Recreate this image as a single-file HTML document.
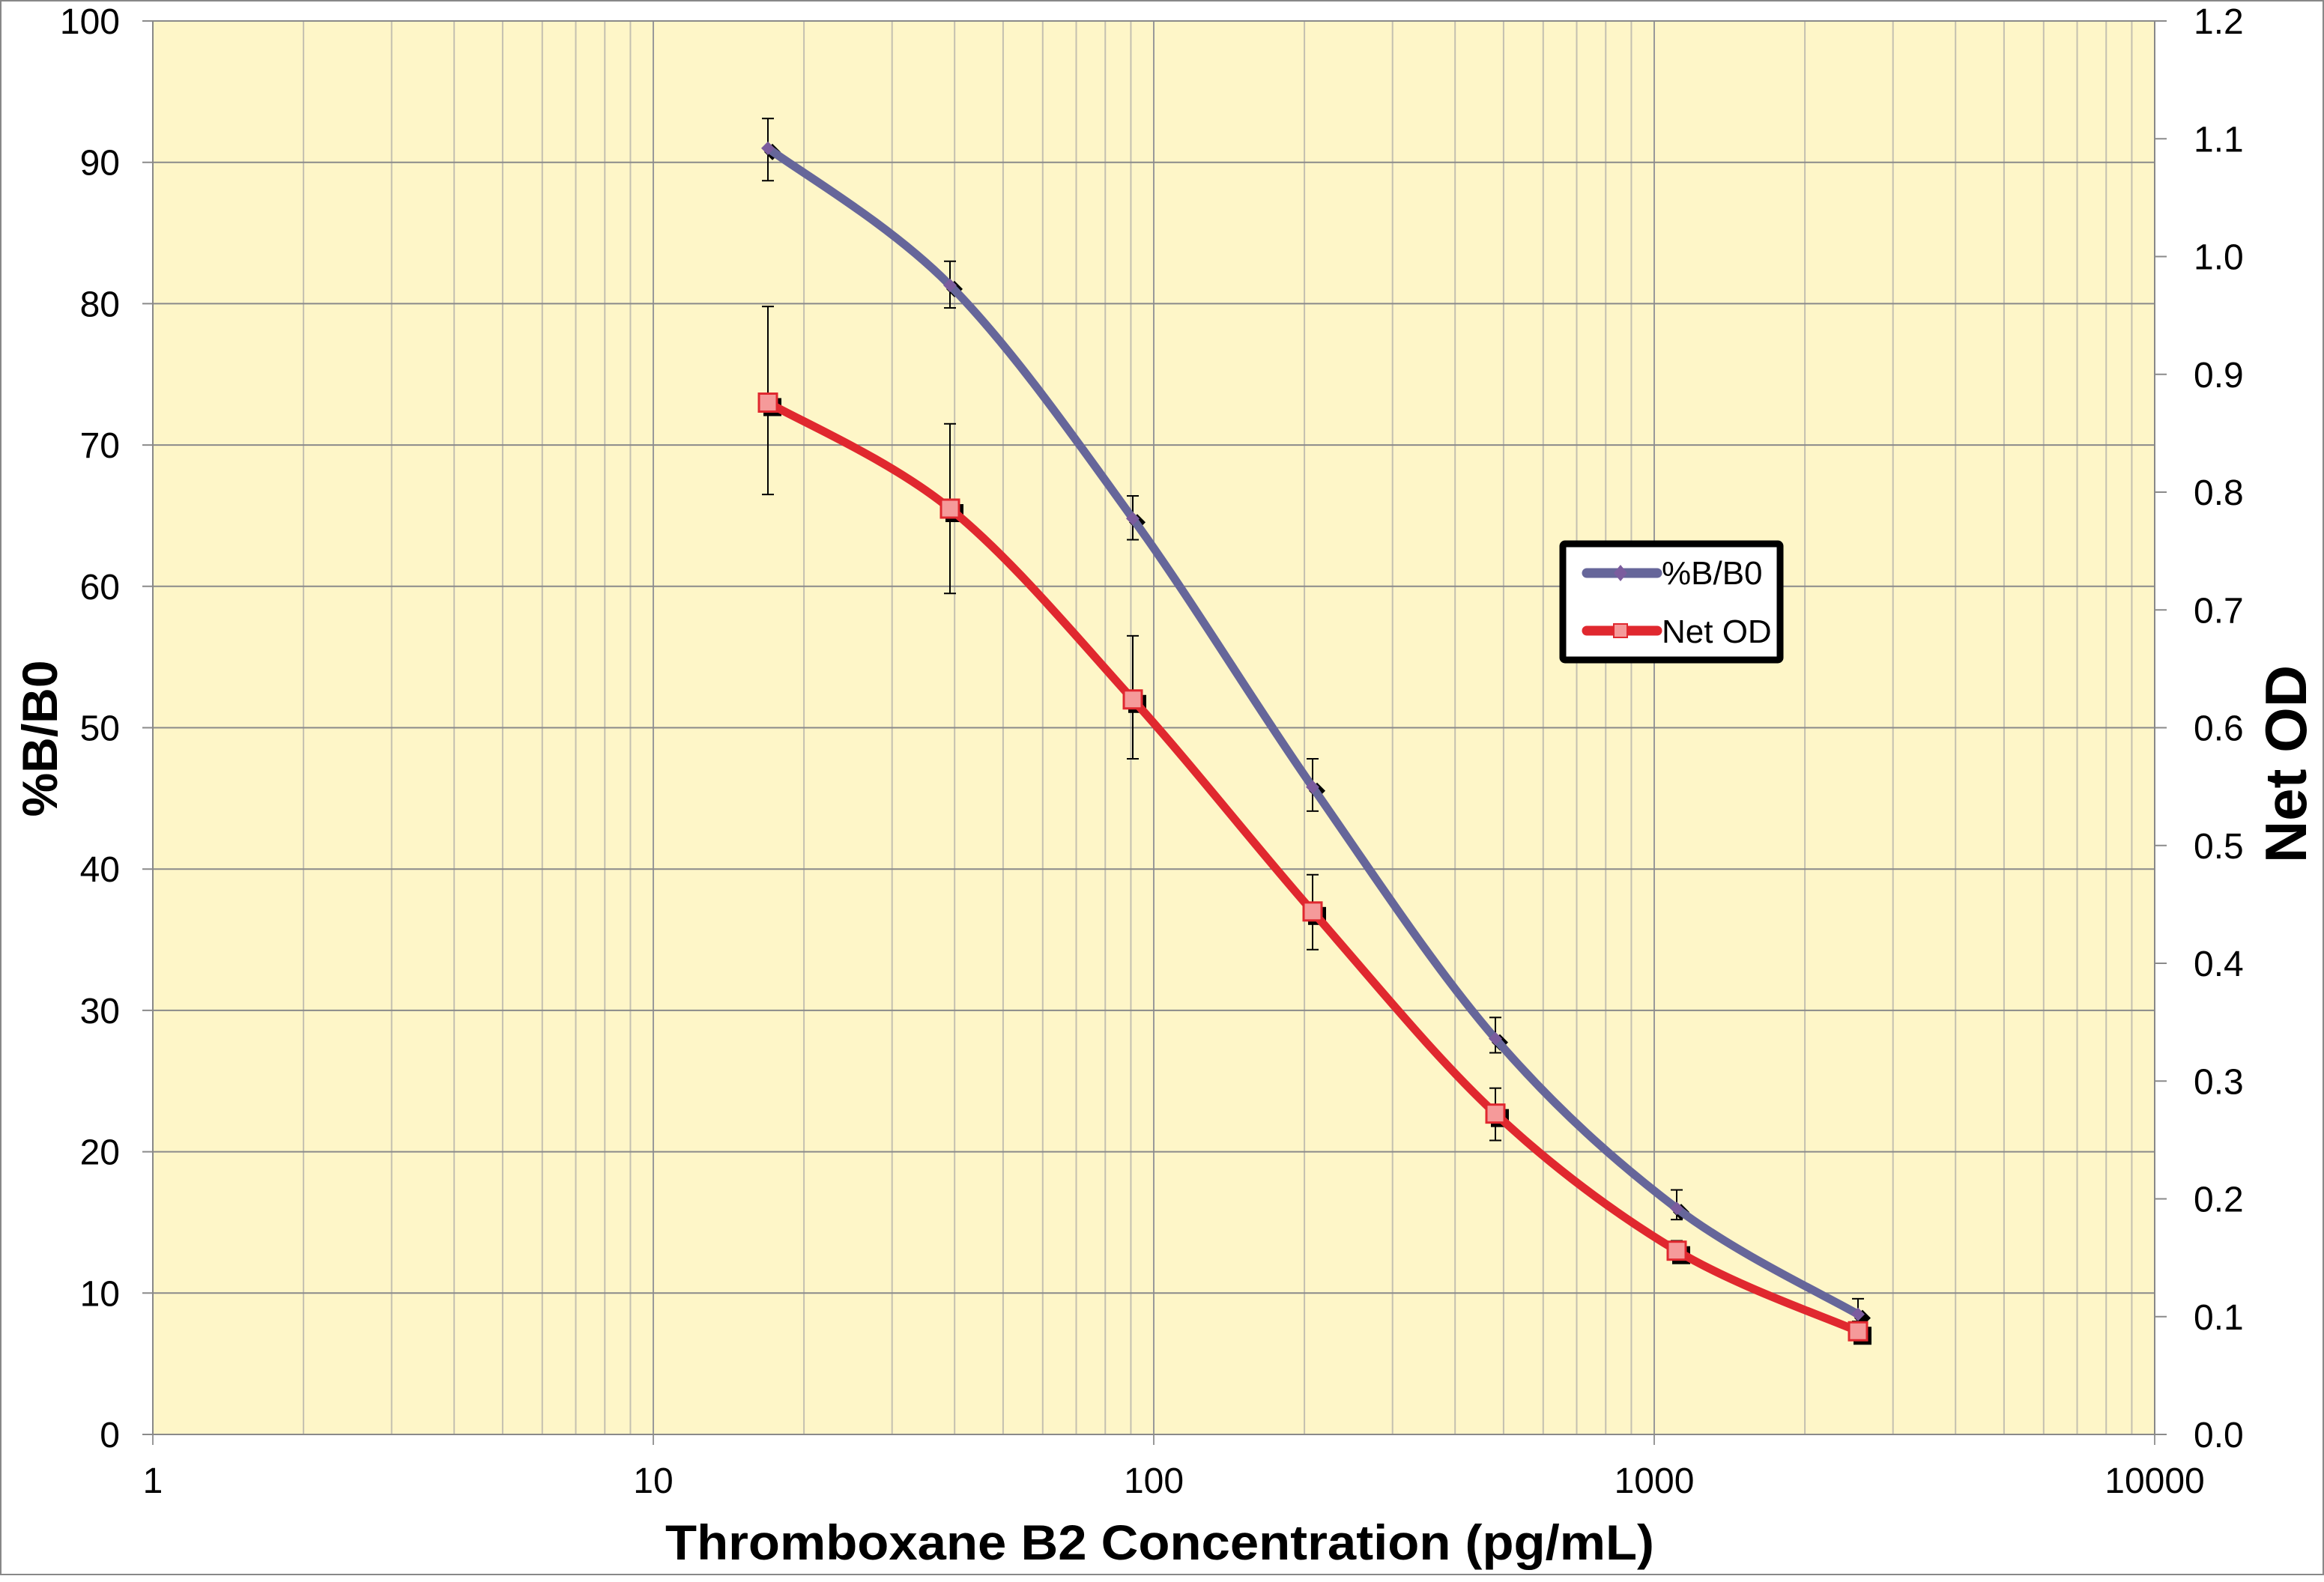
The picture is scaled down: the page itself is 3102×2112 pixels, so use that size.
<!DOCTYPE html>
<html><head><meta charset="utf-8"><style>
html,body{margin:0;padding:0;background:#fff}
svg{display:block}
text{font-family:"Liberation Sans",Arial,sans-serif}
</style></head><body>
<svg id="s" width="3102" height="2112" viewBox="0 0 3102 2112" xmlns="http://www.w3.org/2000/svg">
<rect x="1" y="1" width="3100" height="2101" fill="#fff" stroke="#888" stroke-width="2"/>
<rect x="204" y="28" width="2672" height="1887" fill="#FEF6C8"/>
<g id="grid"></g>
<g id="series"></g>
<g id="labels" font-size="48" fill="#000"></g>
<text x="0" y="0" font-size="66" font-weight="bold" transform="translate(76,986) rotate(-90)" text-anchor="middle">%B/B0</text>
<text x="0" y="0" font-size="78" font-weight="bold" transform="translate(3078,1020) rotate(-90)" text-anchor="middle">Net OD</text>
<text x="1548" y="2082" font-size="66" font-weight="bold" text-anchor="middle" textLength="1320" lengthAdjust="spacingAndGlyphs">Thromboxane B2 Concentration (pg/mL)</text>
<g>
<rect x="2086" y="726" width="290" height="155" fill="#fff" stroke="#000" stroke-width="9" rx="3"/>
<line x1="2118" y1="765" x2="2212" y2="765" stroke="#66669A" stroke-width="13" stroke-linecap="round"/>
<polygon points="2163,754 2172,765 2163,776 2154,765" fill="#7B5C9E"/>
<text x="2218" y="780" font-size="44">%B/B0</text>
<line x1="2118" y1="842" x2="2212" y2="842" stroke="#E0282F" stroke-width="13" stroke-linecap="round"/>
<rect x="2154" y="833" width="18" height="18" fill="#F59A9A" stroke="#E0282F" stroke-width="2"/>
<text x="2218" y="858" font-size="44">Net OD</text>
</g>
</svg>
<script>
const NS="http://www.w3.org/2000/svg";
const L=204,R=2876,T=28,B=1915,D=668,U=18.87;
const X=c=>L+Math.log10(c)*D, Y=v=>B-v*U;
function el(p,n,a){const e=document.createElementNS(NS,n);for(const k in a)e.setAttribute(k,a[k]);p.appendChild(e);return e;}
const g=document.getElementById('grid'),lab=document.getElementById('labels'),sr=document.getElementById('series');
for(let d=0;d<4;d++)for(let m=2;m<10;m++){const x=X(Math.pow(10,d)*m);el(g,'line',{x1:x,y1:T,x2:x,y2:B,stroke:'#C4C0B0','stroke-width':2});}
for(let d=0;d<=4;d++){const x=X(Math.pow(10,d));el(g,'line',{x1:x,y1:T,x2:x,y2:B+14,stroke:'#999','stroke-width':2});
 const t=el(lab,'text',{x:x,y:1993,'text-anchor':'middle'});t.textContent=String(Math.pow(10,d));}
for(let v=0;v<=100;v+=10){const y=Y(v);el(g,'line',{x1:190,y1:y,x2:R,y2:y,stroke:'#8a8a8a','stroke-width':2});
 const t=el(lab,'text',{x:160,y:y+17,'text-anchor':'end'});t.textContent=v;}
for(let k=0;k<=12;k++){const y=B-k*(B-T)/12;el(g,'line',{x1:R,y1:y,x2:R+16,y2:y,stroke:'#8a8a8a','stroke-width':2});
 const t2=el(lab,'text',{x:2928,y:y+17});t2.textContent=(k/10).toFixed(1);}
el(g,'line',{x1:L,y1:T,x2:L,y2:B,stroke:'#888','stroke-width':2});
el(g,'line',{x1:R,y1:T,x2:R,y2:B,stroke:'#888','stroke-width':2});
const xs=[1025,1268,1512,1752,1996,2238,2480];
const b=[91,81.3,64.8,45.8,28,16,8.5], be=[[88.7,93.1],[79.7,83],[63.3,66.4],[44.1,47.8],[27,29.5],[15.2,17.3],[8,9.6]];
const o=[73,65.5,52,37,22.7,13,7.3], oe=[[66.5,79.8],[59.5,71.5],[47.8,56.5],[34.3,39.6],[20.8,24.5],[12.4,13.7],[7,7.8]];
function path(ys){const p=xs.map((x,i)=>[x,Y(ys[i])]);let d='M'+p[0];for(let i=0;i<p.length-1;i++){const p0=p[i-1]||p[i],p1=p[i],p2=p[i+1],p3=p[i+2]||p2;
 const c1=[p1[0]+(p2[0]-p0[0])/6,p1[1]+(p2[1]-p0[1])/6],c2=[p2[0]-(p3[0]-p1[0])/6,p2[1]-(p3[1]-p1[1])/6];d+=' C'+c1+' '+c2+' '+p2;}return d;}
function err(e){xs.forEach((x,i)=>{const a=Y(e[i][0]),c=Y(e[i][1]);el(sr,'line',{x1:x,y1:a,x2:x,y2:c,stroke:'#000','stroke-width':2});
 el(sr,'line',{x1:x-8,y1:a,x2:x+8,y2:a,stroke:'#000','stroke-width':2});el(sr,'line',{x1:x-8,y1:c,x2:x+8,y2:c,stroke:'#000','stroke-width':2});});}
err(be);err(oe);
xs.forEach((x,i)=>{const y=Y(b[i])+5;el(sr,'polygon',{points:`${x+6},${y-11} ${x+17},${y} ${x+6},${y+11} ${x-5},${y}`,fill:'#000'});
 const y2=Y(o[i]);el(sr,'rect',{x:x-6,y:y2-6,width:24,height:24,fill:'#000'});});
el(sr,'path',{d:path(b),fill:'none',stroke:'#66669A','stroke-width':11,'stroke-linecap':'round','stroke-linejoin':'round'});
el(sr,'path',{d:path(o),fill:'none',stroke:'#E0282F','stroke-width':11,'stroke-linecap':'round','stroke-linejoin':'round'});
xs.forEach((x,i)=>{const y=Y(b[i]);el(sr,'polygon',{points:`${x},${y-9} ${x+9},${y} ${x},${y+9} ${x-9},${y}`,fill:'#7B5C9E'});
 const y2=Y(o[i]);el(sr,'rect',{x:x-12,y:y2-12,width:24,height:24,fill:'#F59A9A',stroke:'#E0282F','stroke-width':3});});
</script>
</body></html>
